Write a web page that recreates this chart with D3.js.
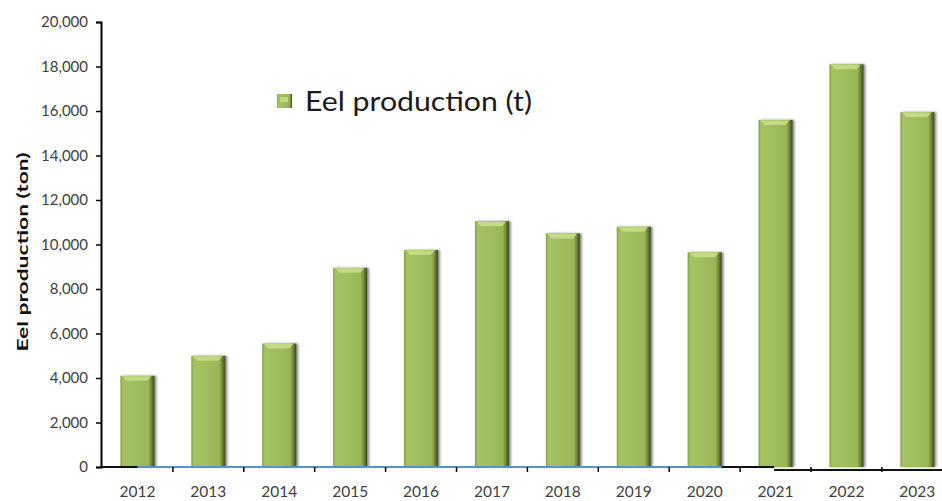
<!DOCTYPE html>
<html>
<head>
<meta charset="utf-8">
<script src="https://cdn.jsdelivr.net/npm/d3@7"></script>
<style>
  html, body { margin: 0; padding: 0; background: #fff; }
  svg { display: block; }
</style>
</head>
<body>
<svg id="chart" width="942" height="501"></svg>
<script>
// Annual eel production, tonnes
const years = ["2012","2013","2014","2015","2016","2017","2018","2019","2020","2021","2022","2023"];
const production = [4100, 5000, 5550, 8950, 9750, 11050, 10500, 10800, 9650, 15600, 18100, 15950];
const yTicks = [0, 2000, 4000, 6000, 8000, 10000, 12000, 14000, 16000, 18000, 20000];
const seriesName = "Eel production (t)";
const yTitle = "Eel production (ton)";

const svg = d3.select("#chart");
const font = "Lato, 'Open Sans', sans-serif";

const x0 = 102, step = 70.9;
const x = d3.scaleBand()
  .domain(years)
  .range([x0, x0 + step * years.length])
  .paddingInner(0.52)
  .paddingOuter(0.26);

const y = d3.scaleLinear().domain([0, 20000]).range([467, 22]);

// gradients for the bevelled bars
const defs = svg.append("defs");
const g = defs.append("linearGradient").attr("id", "barFill")
  .attr("x1", "0").attr("x2", "1").attr("y1", "0").attr("y2", "0");
[["0%", "#7f9b42"], ["7%", "#a4c361"], ["50%", "#9ebd5b"], ["82%", "#98b655"], ["90%", "#718b37"], ["100%", "#3a481a"]]
  .forEach(([o, c]) => g.append("stop").attr("offset", o).attr("stop-color", c));
const f = defs.append("filter").attr("id", "shadow").attr("x", "-20%").attr("y", "-5%").attr("width", "150%").attr("height", "115%");
f.append("feDropShadow").attr("dx", 2).attr("dy", 0).attr("stdDeviation", 1.3)
  .attr("flood-color", "#000").attr("flood-opacity", 0.45);

// bars
const bars = svg.append("g").selectAll("g.bar")
  .data(years.map((yr, i) => ({ yr, v: production[i] })))
  .join("g").attr("class", "bar");

bars.append("rect")
  .attr("x", d => x(d.yr))
  .attr("y", d => y(d.v))
  .attr("width", x.bandwidth())
  .attr("height", d => y(0) - y(d.v))
  .attr("fill", "url(#barFill)")
  .attr("filter", "url(#shadow)");

// top bevel highlight
bars.append("path")
  .attr("d", d => {
    const bx = x(d.yr), by = y(d.v), w = x.bandwidth();
    return `M${bx + 2},${by + 0.5} L${bx + w - 3},${by + 0.5} L${bx + w - 7},${by + 5} L${bx + 6},${by + 5} Z`;
  })
  .attr("fill", "#c6dd8b")
  .attr("opacity", 0.9);

// y axis
const yAxis = d3.axisLeft(y).tickValues(yTicks).tickFormat(d3.format(",")).tickSize(5).tickPadding(8);
const ya = svg.append("g").attr("transform", "translate(101,0)").call(yAxis);
ya.select(".domain").attr("stroke", "#000").attr("stroke-width", 2);
ya.selectAll(".tick line").attr("stroke", "#000").attr("stroke-width", 1.5);
ya.selectAll(".tick text").attr("fill", "#404040").attr("font-family", font).attr("font-size", 15);

// x axis baseline and ticks at category boundaries
const xa = svg.append("g");
const xRight = x("2020") + x.bandwidth() + x.step() * x.paddingInner() / 2 + x.bandwidth();
xa.append("line").attr("x1", 101).attr("x2", xRight).attr("y1", y(0)).attr("y2", y(0))
  .attr("stroke", "#111").attr("stroke-width", 2);
xa.append("line").attr("x1", xRight).attr("x2", 942).attr("y1", y(0) + 3).attr("y2", y(0) + 3)
  .attr("stroke", "#111").attr("stroke-width", 2);
xa.append("line")
  .attr("x1", x("2012") + x.bandwidth() / 2).attr("x2", x("2020") + x.bandwidth())
  .attr("y1", y(0)).attr("y2", y(0))
  .attr("stroke", "#5b8fd0").attr("stroke-width", 2.2);
xa.selectAll("line.tk").data(years.slice(1)).join("line").attr("class", "tk")
  .attr("x1", d => x(d) - x.step() * x.paddingInner() / 2)
  .attr("x2", d => x(d) - x.step() * x.paddingInner() / 2)
  .attr("y1", y(0)).attr("y2", y(0) + 5)
  .attr("stroke", "#000").attr("stroke-width", 1.5);
xa.selectAll("text").data(years).join("text")
  .attr("x", d => x(d) + x.bandwidth() / 2)
  .attr("y", 497)
  .attr("text-anchor", "middle")
  .attr("fill", "#404040")
  .attr("font-family", font)
  .attr("font-size", 15.5)
  .text(d => d);

// y axis title
svg.append("text")
  .attr("transform", "translate(28,252) rotate(-90)")
  .attr("text-anchor", "middle")
  .attr("font-family", font)
  .attr("font-weight", "bold")
  .attr("font-size", 16)
  .attr("textLength", 199)
  .attr("lengthAdjust", "spacingAndGlyphs")
  .attr("fill", "#111")
  .text(yTitle);

// legend
const lg = svg.append("g").attr("transform", "translate(277,94)");
lg.append("rect").attr("width", 15).attr("height", 14).attr("fill", "url(#barFill)");
lg.append("rect").attr("x", 3).attr("y", 3).attr("width", 8).attr("height", 5).attr("fill", "#c6dd8b").attr("opacity", 0.8);
lg.append("text").attr("x", 28).attr("y", 17)
  .attr("font-family", font).attr("font-size", 26).attr("fill", "#1a1a1a")
  .attr("textLength", 227)
  .attr("lengthAdjust", "spacingAndGlyphs")
  .text(seriesName);
</script>
</body>
</html>
